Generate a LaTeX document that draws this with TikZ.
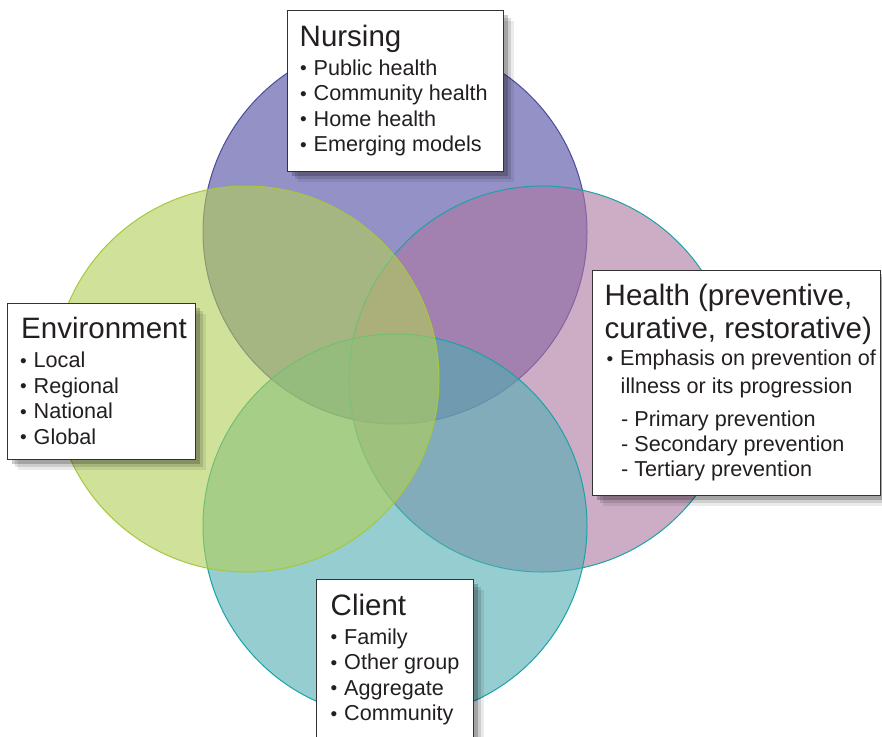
\documentclass[tikz,border=0pt]{standalone}
\usepackage{fontspec}
\setmainfont{Liberation Sans}
\usetikzlibrary{shadows}
\definecolor{txt}{HTML}{231F20}
\definecolor{nurF}{RGB}{77,73,163}
\definecolor{helF}{RGB}{172,117,160}
\definecolor{cliF}{RGB}{80,172,177}
\definecolor{envF}{RGB}{177,207,85}
\definecolor{nurD}{HTML}{4A4C9E}
\definecolor{helD}{HTML}{1AA3A8}
\definecolor{cliD}{HTML}{1AA3A8}
\definecolor{envD}{HTML}{A5C83C}
\definecolor{boxD}{HTML}{333333}
\newcommand{\bul}{\makebox[13.5pt][l]{\raisebox{0.3pt}{\fontsize{19}{19}\selectfont •}}}
\tikzset{
  ring/.style={circle, minimum size=#1, inner sep=0pt, fill opacity=0.6, line width=1pt},
  panel/.style={draw=boxD, line width=1.2pt, fill=white, anchor=north west, inner sep=0pt,
    general shadow={shadow xshift=10pt, shadow yshift=-10pt, fill=black, opacity=0.08},
    general shadow={shadow xshift=7pt, shadow yshift=-7pt, fill=black, opacity=0.12},
    general shadow={shadow xshift=4pt, shadow yshift=-4pt, fill=black, opacity=0.2}},
  ttl/.style={anchor=base west, inner sep=0pt, text=txt, font=\fontsize{29.5}{33}\selectfont},
  itm/.style={anchor=base west, inner sep=0pt, text=txt, font=\fontsize{21.6}{25}\selectfont}
}
\begin{document}
\begin{tikzpicture}[x=1pt, y=-1pt]
\clip (0,0) rectangle (882,736);
\fill[white] (0,0) rectangle (882,736);
% circles
\node[ring=384pt, fill=nurF, draw=nurD] (nurC) at (395,232) {};
\node[ring=386pt, fill=helF, draw=helD] (helC) at (542,379) {};
\node[ring=384pt, fill=cliF, draw=cliD] (cliC) at (395,526) {};
\node[ring=386pt, fill=envF, draw=envD] (envC) at (246,379) {};
% boxes
\node[panel, minimum width=216pt, minimum height=161pt] (nurbox) at (287,10) {};
\node[panel, minimum width=188pt, minimum height=156pt] (envbox) at (7,303) {};
\node[panel, minimum width=288pt, minimum height=225.5pt] (helbox) at (592,269.5) {};
\node[panel, minimum width=157pt, minimum height=200pt] (clibox) at (316,579) {};
% Nursing
\node[ttl] (nurT) at (299.5,46) {Nursing};
\node[itm] (nur1) at (300,75) {\bul Public health};
\node[itm] (nur2) at (300,100.5) {\bul Community health};
\node[itm] (nur3) at (300,126) {\bul Home health};
\node[itm] (nur4) at (300,151.5) {\bul Emerging models};
% Environment
\node[ttl] (envT) at (21,338) {Environment};
\node[itm] (env1) at (20,367.5) {\bul Local};
\node[itm] (env2) at (20,393) {\bul Regional};
\node[itm] (env3) at (20,418.5) {\bul National};
\node[itm] (env4) at (20,444) {\bul Global};
% Client
\node[ttl] (cliT) at (330.5,615) {Client};
\node[itm] (cli1) at (330.5,644) {\bul Family};
\node[itm] (cli2) at (330.5,669.5) {\bul Other group};
\node[itm] (cli3) at (330.5,695) {\bul Aggregate};
\node[itm] (cli4) at (330.5,720.5) {\bul Community};
% Health
\node[ttl] (helT1) at (604.5,305) {Health (preventive,};
\node[ttl] (helT2) at (604.5,338) {curative, restorative)};
\node[itm] (hel1) at (606.5,365.5) {\bul Emphasis on prevention of};
\node[itm] (hel2) at (620.5,393.5) {illness or its progression};
\node[itm] (hel3) at (621,426) {- Primary prevention};
\node[itm] (hel4) at (621,451) {- Secondary prevention};
\node[itm] (hel5) at (621,476.5) {- Tertiary prevention};
\end{tikzpicture}
\end{document}
